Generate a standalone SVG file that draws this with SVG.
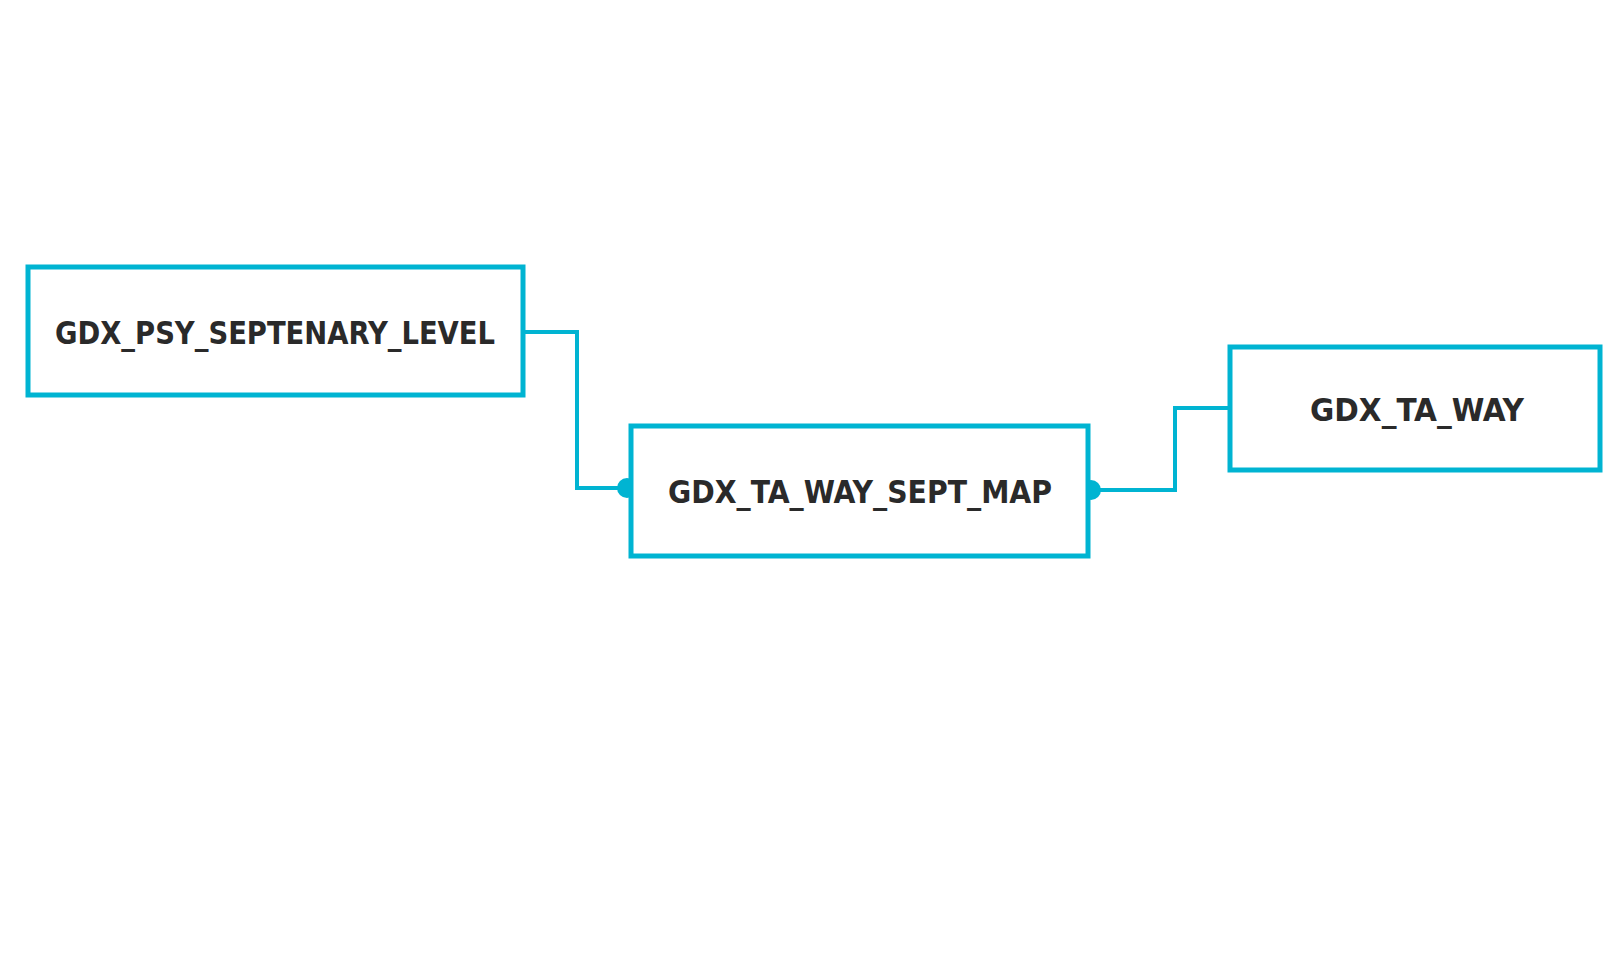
<svg xmlns="http://www.w3.org/2000/svg" width="1619" height="971" viewBox="0 0 1619 971">
<style>
.box{fill:#fff;stroke:#00b4d2;stroke-width:5}
.lbl{font-family:"DejaVu Sans Condensed","DejaVu Sans",sans-serif;font-stretch:condensed;font-weight:bold;font-size:32px;fill:#2a2a2a;text-anchor:middle}
.con{fill:none;stroke:#00b4d2;stroke-width:4}
.dot{fill:#00b4d2}
</style>
<rect width="1619" height="971" fill="#fff"/>
<g id="connectors">
<polyline class="con" points="523,332 577,332 577,488 627,488"/>
<circle class="dot" cx="627" cy="488" r="10"/>
<polyline class="con" points="1091,490 1175,490 1175,408 1230,408"/>
<circle class="dot" cx="1091" cy="490" r="10"/>
</g>
<g id="n1"><rect class="box" x="28" y="267" width="495" height="128"/>
<text class="lbl" x="275" y="344" textLength="440" lengthAdjust="spacingAndGlyphs">GDX_PSY_SEPTENARY_LEVEL</text></g>
<g id="n2"><rect class="box" x="631" y="426" width="457" height="130"/>
<text class="lbl" x="860" y="503" textLength="384" lengthAdjust="spacingAndGlyphs">GDX_TA_WAY_SEPT_MAP</text></g>
<g id="n3"><rect class="box" x="1230" y="347" width="370" height="123"/>
<text class="lbl" x="1417" y="421" textLength="214" lengthAdjust="spacingAndGlyphs">GDX_TA_WAY</text></g>
</svg>
